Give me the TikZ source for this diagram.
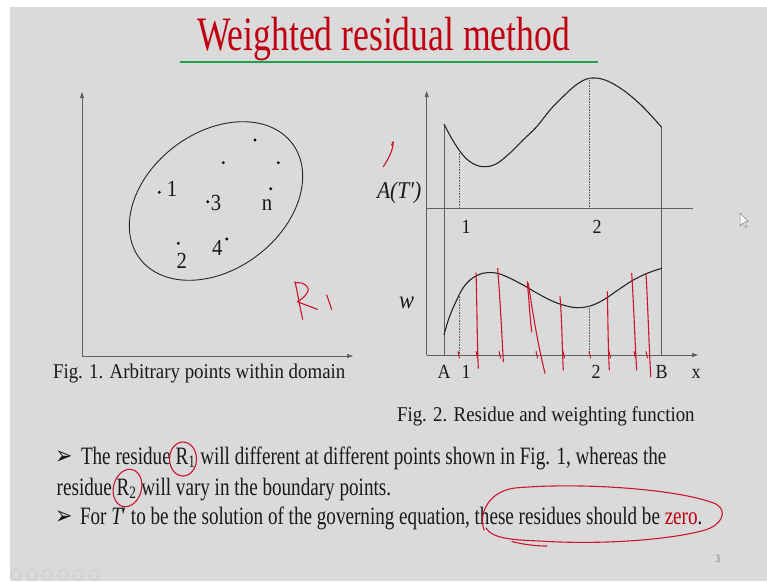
\documentclass[tikz,border=0pt]{standalone}
\usepackage{fontspec}
\setmainfont[FakeStretch=0.765]{Liberation Serif}
\newfontfamily\titlefont[FakeStretch=0.742]{Liberation Serif}
\newfontfamily\figfont[FakeStretch=0.9]{Liberation Serif}
\newfontfamily\bulletfont[FakeStretch=0.8]{DejaVu Sans}
\usetikzlibrary{arrows.meta}
\definecolor{slidebg}{RGB}{218,218,218}
\definecolor{titlered}{RGB}{192,0,16}
\definecolor{titlegreen}{RGB}{30,160,80}
\definecolor{pen}{RGB}{205,20,45}
\definecolor{axisgray}{RGB}{95,95,95}
\definecolor{navgray}{RGB}{200,200,200}
\tikzset{
  axisline/.style={draw=axisgray, line width=0.8pt},
  arrowaxis/.style={axisline, -{Triangle[length=6pt,width=4pt]}},
  curveline/.style={draw=black!85, line width=1.1pt},
  guide/.style={draw=axisgray, densely dotted, line width=0.6pt},
  dotpt/.style={fill=black, radius=1.6pt},
  ink/.style={draw=pen, line width=1.1pt, line cap=round, line join=round},
  txt/.style={anchor=base west, inner sep=0pt, outer sep=0pt, text=black!90},
  lbl/.style={anchor=base, inner sep=0pt, outer sep=0pt, text=black!90},
}
\begin{document}
\begin{tikzpicture}[x=1pt,y=-1pt]
\useasboundingbox (0,0) rectangle (767,581);
\fill[white] (0,0) rectangle (767,581);
\fill[slidebg] (10,7) rectangle (767,581);

% title
\node[txt, text=titlered, font=\titlefont\fontsize{48}{50}\selectfont] (title) at (197,50) {Weighted residual method};
\coordinate (gl) at (180,62);
\coordinate (gr) at (598,62);
\draw[titlegreen, line width=2pt] (gl) -- (gr);

% ---------- Fig. 1 ----------
\coordinate (o1) at (82,356);
\coordinate (y1) at (82,92);
\coordinate (x1) at (353,356);
\draw[arrowaxis] (o1) -- (y1);
\draw[arrowaxis] (o1) -- (x1);
\draw[curveline, line width=0.9pt, rotate around={37:(216,201)}] (216,201) ellipse [x radius=95.5, y radius=68.4];
\fill[dotpt] (159.3,192.3) circle;
\fill[dotpt] (207.7,201.7) circle;
\fill[dotpt] (270.7,188.7) circle;
\fill[dotpt] (255,140) circle;
\fill[dotpt] (223.3,162.7) circle;
\fill[dotpt] (278.3,162.7) circle;
\fill[dotpt] (178.3,243.3) circle;
\fill[dotpt] (226.7,239) circle;
\begin{scope}[every node/.style={lbl, font=\figfont\fontsize{23}{26}\selectfont}]
\node (p1) at (172,196) {1};
\node (p3) at (216,210.7) {3};
\node (pn) at (267,210.7) {n};
\node (p2) at (181.7,268.3) {2};
\node (p4) at (217.3,255) {4};
\end{scope}
\node[txt, font=\figfont\fontsize{21}{24}\selectfont] (cap1) at (53,378) {Fig. 1. Arbitrary points within domain};

% ---------- Fig. 2 ----------
\coordinate (o2) at (426.7,355);
\coordinate (y2) at (426.7,91);
\coordinate (x2) at (698,355);
\coordinate (h2l) at (426.7,208.3);
\coordinate (h2r) at (693,208.3);
\coordinate (At) at (444,124);
\coordinate (Ab) at (444,355);
\coordinate (Bt) at (661.7,127.3);
\coordinate (Bb) at (661.7,355);
\draw[arrowaxis] (o2) -- (y2);
\draw[arrowaxis] (o2) -- (x2);
\draw[axisline] (h2l) -- (h2r);
\draw[axisline] (At) -- (Ab);
\draw[axisline] (Bt) -- (Bb);
% upper curve A(T')
\draw[curveline] plot[smooth, tension=0.6] coordinates {(444,124) (452,139) (462,154) (472,163) (483.3,166.7) (496,164) (510,153) (523,140) (536.7,126.7) (550,110) (563,96.7) (576,85) (589.3,78.3) (605,80) (623,90) (642,106) (661.7,127.3)};
% lower curve w
\draw[curveline] plot[smooth, tension=0.6] coordinates {(444,335) (449,318) (456.7,300) (463,288) (470,280) (478,275) (486.7,272.7) (500,274) (520,283.3) (535,292) (550,300) (563,305) (576.7,307.7) (590,306) (603.3,300) (618,290) (633.3,280) (648,273) (661.7,268.3)};
\draw[guide] (459.3,151) -- (459.3,208.3);
\draw[guide] (589.3,78.3) -- (589.3,208.3);
\draw[guide] (459.3,294) -- (459.3,355);
\draw[guide] (589.3,306) -- (589.3,355);
\begin{scope}[every node/.style={lbl, font=\figfont\fontsize{20}{22}\selectfont}]
\node (u1) at (466,233.3) {1};
\node (u2) at (597,233.3) {2};
\node (lA) at (444,378.3) {A};
\node (l1) at (466,378.3) {1};
\node (l2) at (596,378.3) {2};
\node (lB) at (661.7,378.3) {B};
\node (lx) at (696,378.3) {x};
\end{scope}
\node[txt, font=\figfont\fontsize{24}{26}\selectfont\itshape] (AT) at (377,198.3) {A(T′)};
\node[txt, font=\figfont\fontsize{25}{27}\selectfont\itshape] (wl) at (399,308) {w};
\node[txt, font=\figfont\fontsize{21}{24}\selectfont] (cap2) at (397,421.7) {Fig. 2. Residue and weighting function};

% ---------- bullet text ----------
\begin{scope}[every node/.style={txt, font=\fontsize{25}{28}\selectfont}]
\node[font=\bulletfont\fontsize{26}{28}\selectfont] (b1) at (55,464) {➢};
\node (t1) at (81,464) {The residue R\textsubscript{1} will different at different points shown in Fig. 1, whereas the};
\node (t2) at (56.7,495) {residue R\textsubscript{2} will vary in the boundary points.};
\node[font=\bulletfont\fontsize{26}{28}\selectfont] (b3) at (55,524) {➢};
\node (t3) at (80,524) {For {\itshape T}′ to be the solution of the governing equation, these residues should be \textcolor{titlered}{zero}.};
\end{scope}
\node[lbl, text=black!55, font=\fontsize{11}{12}\selectfont] (pg) at (718,562) {3};

% nav icons
\foreach \cx in {16,32,47,63,78,94} \draw[navgray, line width=0.7pt] (\cx,575) circle (5.2);
% cursor
\filldraw[fill=white!90!slidebg, draw=gray, line width=0.5pt] (740,213) -- (740,226) -- (743,223) -- (745.5,227.5) -- (747,226.5) -- (744.5,222) -- (748,221.5) -- cycle;

% ---------- handwritten ink ----------
% R1 in fig 1
\draw[ink] (295,281.7) .. controls (298,295) and (300,308) .. (302.7,319.3);
\draw[ink] (295,283) .. controls (304,281) and (311,288) .. (307,293) .. controls (304,298) and (300,300) .. (297.3,301.7) -- (317.3,309.3);
\draw[ink] (326.7,295) -- (331.7,309.3);
% mark near A(T')
\draw[ink] (383.3,166.7) .. controls (389,158) and (393,150) .. (393.3,141.7) -- (391.5,145);
% strokes in fig 2
\draw[ink] (476,273) .. controls (477,300) and (477,340) .. (478.3,368.3);
\draw[ink] (497.7,268.3) .. controls (500,300) and (502,335) .. (503.3,361.7);
\draw[ink] (527.3,281.7) .. controls (529,300) and (530,318) .. (531.7,331.7);
\draw[ink] (528.3,283.3) .. controls (533,315) and (538,345) .. (545,373.3);
\draw[ink] (560,296.7) .. controls (562,320) and (562,345) .. (563.3,370);
\draw[ink] (607.3,291.7) .. controls (608,320) and (608,345) .. (609.3,370);
\draw[ink] (631.7,273.3) .. controls (634,310) and (635,345) .. (636.7,370);
\draw[ink] (646,273.3) .. controls (648,310) and (649,345) .. (650.7,376.7);
\foreach \tx in {458,476,499,536,563,589,609,634,646}
  \draw[ink, line width=1pt] (\tx,351.5) -- (\tx+1.5,358);
% circles round R1 and R2
\draw[ink] (183,459) ellipse [x radius=13.5, y radius=17];
\draw[ink, rotate around={-15:(127.5,488)}] (127.5,488) ellipse [x radius=14, y radius=19];
% loop round "these residues should be zero."
\draw[ink] (484,530) .. controls (478,512) and (490,491) .. (515,488)
  .. controls (580,482) and (680,489) .. (716,504)
  .. controls (728,511) and (722,525) .. (705,530)
  .. controls (670,540) and (600,545) .. (540,541)
  .. controls (510,540) and (492,538) .. (486,528);
\draw[ink] (512,541.5) .. controls (525,545) and (538,546) .. (547,546);
\end{tikzpicture}
\end{document}
